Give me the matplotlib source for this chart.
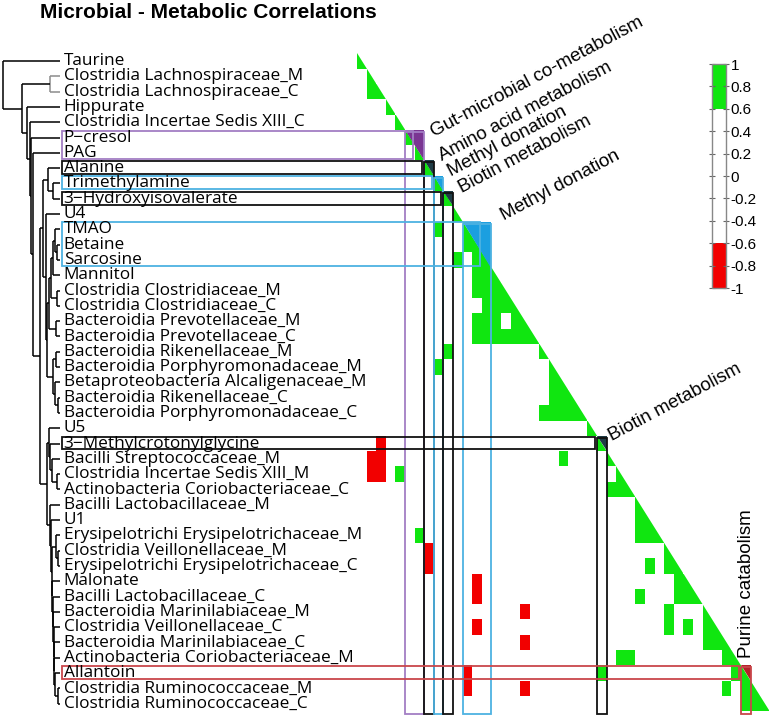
import numpy as np
import matplotlib
matplotlib.use("Agg")
import matplotlib.pyplot as plt
from matplotlib.colors import ListedColormap, Normalize
from matplotlib.patches import Polygon, Rectangle
from matplotlib.cm import ScalarMappable

# ---- data ----
labels = [
    "Taurine", "Clostridia Lachnospiraceae_M", "Clostridia Lachnospiraceae_C",
    "Hippurate", "Clostridia Incertae Sedis XIII_C", "P\u2212cresol", "PAG",
    "Alanine", "Trimethylamine", "3\u2212Hydroxyisovalerate", "U4", "TMAO",
    "Betaine", "Sarcosine", "Mannitol", "Clostridia Clostridiaceae_M",
    "Clostridia Clostridiaceae_C", "Bacteroidia Prevotellaceae_M",
    "Bacteroidia Prevotellaceae_C", "Bacteroidia Rikenellaceae_M",
    "Bacteroidia Porphyromonadaceae_M", "Betaproteobacteria Alcaligenaceae_M",
    "Bacteroidia Rikenellaceae_C", "Bacteroidia Porphyromonadaceae_C", "U5",
    "3\u2212Methylcrotonylglycine", "Bacilli Streptococcaceae_M",
    "Clostridia Incertae Sedis XIII_M", "Actinobacteria Coriobacteriaceae_C",
    "Bacilli Lactobacillaceae_M", "U1", "Erysipelotrichi Erysipelotrichaceae_M",
    "Clostridia Veillonellaceae_M", "Erysipelotrichi Erysipelotrichaceae_C",
    "Malonate", "Bacilli Lactobacillaceae_C", "Bacteroidia Marinilabiaceae_M",
    "Clostridia Veillonellaceae_C", "Bacteroidia Marinilabiaceae_C",
    "Actinobacteria Coriobacteriaceae_M", "Allantoin",
    "Clostridia Ruminococcaceae_M", "Clostridia Ruminococcaceae_C",
]

# strong correlations (row > col), estimated values
pos_row = [2, 11, 12, 13, 13, 14, 14, 15, 15, 15, 16, 16, 16, 17, 17, 17, 17,
           18, 18, 18, 18, 18, 18, 19, 20, 21, 22, 22, 23, 23, 23, 23, 26, 27,
           28, 28, 30, 31, 31, 31, 33, 33, 34, 35, 35, 35, 36, 37, 37, 37, 38,
           38, 39, 39, 39, 40, 40, 41, 41, 42, 42]
pos_col = [1, 8, 11, 10, 12, 12, 13, 12, 13, 14, 13, 14, 15, 12, 13, 14, 16,
           12, 13, 14, 15, 16, 17, 9, 8, 20, 20, 21, 19, 20, 21, 22, 21, 4,
           26, 27, 29, 6, 29, 30, 30, 32, 33, 29, 33, 34, 32, 32, 34, 36, 36,
           37, 27, 28, 38, 25, 39, 38, 40, 40, 41]
neg_row = [25, 26, 26, 27, 27, 32, 33, 34, 35, 36, 37, 38, 40, 41, 41]
neg_col = [2, 1, 2, 1, 2, 7, 7, 12, 12, 17, 12, 17, 11, 11, 17]
pos_r = 0.8
neg_r = -0.8

# modules (first row, last row)
mod_first = [5, 7, 8, 9, 11, 25, 40]
mod_last = [6, 7, 8, 9, 13, 25, 40]
mod_names = ["Gut-microbial co-metabolism", "Amino acid metabolism",
             "Methyl donation", "Biotin metabolism", "Methyl donation",
             "Biotin metabolism", "Purine catabolism"]
mod_fill = ["#7a3592", "#1f3c46", "#1b9fe0", "#1f3c46", "#1b9fe0",
            "#1f3c46", "#b3222a"]
mod_edge = ["#a27ec4", "#111111", "#4db2e2", "#111111", "#4db2e2",
            "#111111", "#c9474b"]
# label offsets (cells) and rotation
mod_dx = [1.2, 1.0, 1.0, 1.1, 1.5, 0.8, -0.4]
mod_dy = [0.7, 0.25, 0.25, 0.35, 0.15, 0.55, -0.5]
mod_rot = [28, 28, 28, 28, 28, 28, 90]

# dendrogram merges: (child a, child b, height); leaves 0..42, nodes 43..
merges = [
    (1, 2, 10), (8, 9, 7), (7, 44, 12), (12, 13, 3), (11, 46, 5),
    (14, 47, 7), (15, 16, 3), (48, 49, 9), (17, 18, 4), (50, 51, 11),
    (19, 20, 4), (22, 23, 2), (21, 54, 5), (53, 55, 7), (52, 56, 13),
    (10, 57, 14), (45, 58, 17), (27, 28, 3), (26, 60, 8), (25, 61, 10),
    (24, 62, 11), (41, 42, 2), (40, 64, 5), (39, 65, 6), (38, 66, 6.2),
    (37, 67, 6.5), (36, 68, 7), (35, 69, 7.5), (34, 70, 8), (32, 33, 2),
    (31, 72, 4), (73, 71, 8.5), (30, 74, 9), (29, 75, 10), (63, 76, 13),
    (59, 77, 20), (6, 78, 27), (5, 79, 29), (4, 80, 30), (3, 81, 33),
    (43, 82, 38), (0, 83, 57),
]

cbar_ticks = [1, 0.8, 0.6, 0.4, 0.2, 0, -0.2, -0.4, -0.6, -0.8, -1]
cbar_labels = ["1", "0.8", "0.6", "0.4", "0.2", "0", "-0.2", "-0.4",
               "-0.6", "-0.8", "-1"]

n = len(labels)
W, H = 769, 717
GREEN = "#10e610"
RED = "#f20000"
cmap = ListedColormap([RED] * 2 + ["white"] * 6 + [GREEN] * 2)
cmap.set_bad("white")
norm = Normalize(-1, 1)

fig = plt.figure(figsize=(W / 100, H / 100), dpi=100)
fig.patch.set_facecolor("white")

# pixel layout of the matrix
mx0, my0, cw, rh = 357.0, 53.4, 9.6, 15.3


def fig_rect(x0, y0, w, h):
    return [x0 / W, 1 - (y0 + h) / H, w / W, h / H]


ax = fig.add_axes(fig_rect(mx0, my0, n * cw, n * rh))
ax.set_xlim(0, n)
ax.set_ylim(n, 0)
ax.axis("off")

M = np.full((n, n), np.nan)
np.fill_diagonal(M, 1.0)
for r, c in zip(pos_row, pos_col):
    M[r, c] = pos_r
for r, c in zip(neg_row, neg_col):
    M[r, c] = neg_r
ax.pcolormesh(np.arange(n + 1), np.arange(n + 1), np.ma.masked_invalid(M),
              cmap=cmap, norm=norm, edgecolors="none", antialiased=False)

# hide upper triangle
ax.add_patch(Polygon([(0, 0), (n + 2, 0), (n + 2, n + 2)], closed=True,
                     facecolor="white", edgecolor="none", zorder=2))

lab_x = (62 - mx0) / cw
for r0, r1, name, fc, ec, dx, dy, rot in zip(mod_first, mod_last, mod_names,
                                              mod_fill, mod_edge, mod_dx,
                                              mod_dy, mod_rot):
    ax.add_patch(Polygon([(r0, r0), (r1 + 1, r0), (r1 + 1, r1 + 1)],
                         closed=True, facecolor=fc, edgecolor="none", zorder=3))
    ax.add_patch(Rectangle((lab_x, r0 + 0.04), r1 - 0.2 - lab_x,
                           r1 + 1 - r0 - 0.16, fill=False, edgecolor=ec,
                           lw=1.3, zorder=4, clip_on=False))
    ax.add_patch(Rectangle((r0, r0 + 0.12), r1 + 1 - r0, n + 0.2 - r0 - 0.12,
                           fill=False, edgecolor=ec, lw=1.3, zorder=4,
                           clip_on=False))
    ax.text(r1 + 1 + dx, r0 + dy, name, rotation=rot, rotation_mode="anchor",
            ha="left", va="bottom" if rot != 90 else "center",
            fontsize=13.5, family="Liberation Sans", zorder=6, clip_on=False)

# ---- dendrogram ----
axd = fig.add_axes(fig_rect(0, my0, 60, n * rh))
axd.set_xlim(60, 0)
axd.set_ylim(n, 0)
axd.axis("off")
ypos = [i + 0.5 for i in range(n)]
hpos = [0.0] * n
for k, (a, b, h) in enumerate(merges):
    col = "#8c8c8c" if k == 0 else "black"
    for ch in (a, b):
        axd.plot([hpos[ch], h], [ypos[ch], ypos[ch]], color=col, lw=1.1,
                 solid_capstyle="butt", clip_on=False)
    axd.plot([h, h], [ypos[a], ypos[b]], color=col, lw=1.1,
             solid_capstyle="butt", clip_on=False)
    ypos.append((ypos[a] + ypos[b]) / 2)
    hpos.append(h)

for i, lab in enumerate(labels):
    axd.text(-3.6, i + 0.5, lab, ha="left", va="center", fontsize=12.4,
             family="Open Sans", clip_on=False, zorder=5)

# ---- title ----
fig.text(40 / W, 1 - 13 / H, "Microbial - Metabolic Correlations",
         ha="left", va="center", fontsize=15, fontweight="bold",
         family="Liberation Sans")

# ---- colour bar ----
cax = fig.add_axes(fig_rect(712, 64, 14, 224))
cb = fig.colorbar(ScalarMappable(norm=norm, cmap=cmap), cax=cax)
cb.set_ticks(cbar_ticks)
cb.set_ticklabels(cbar_labels)
cb.outline.set_edgecolor("#888888")
cb.outline.set_linewidth(1.0)
cax.yaxis.set_ticks_position("both")
cax.tick_params(axis="y", direction="inout", length=5, width=0.8,
                color="#666666", labelsize=11, pad=1,
                labelleft=False, labelright=True)
for t in cax.get_yticklabels():
    t.set_family("Liberation Sans")

fig.savefig("out.png", dpi=100, facecolor="white")
